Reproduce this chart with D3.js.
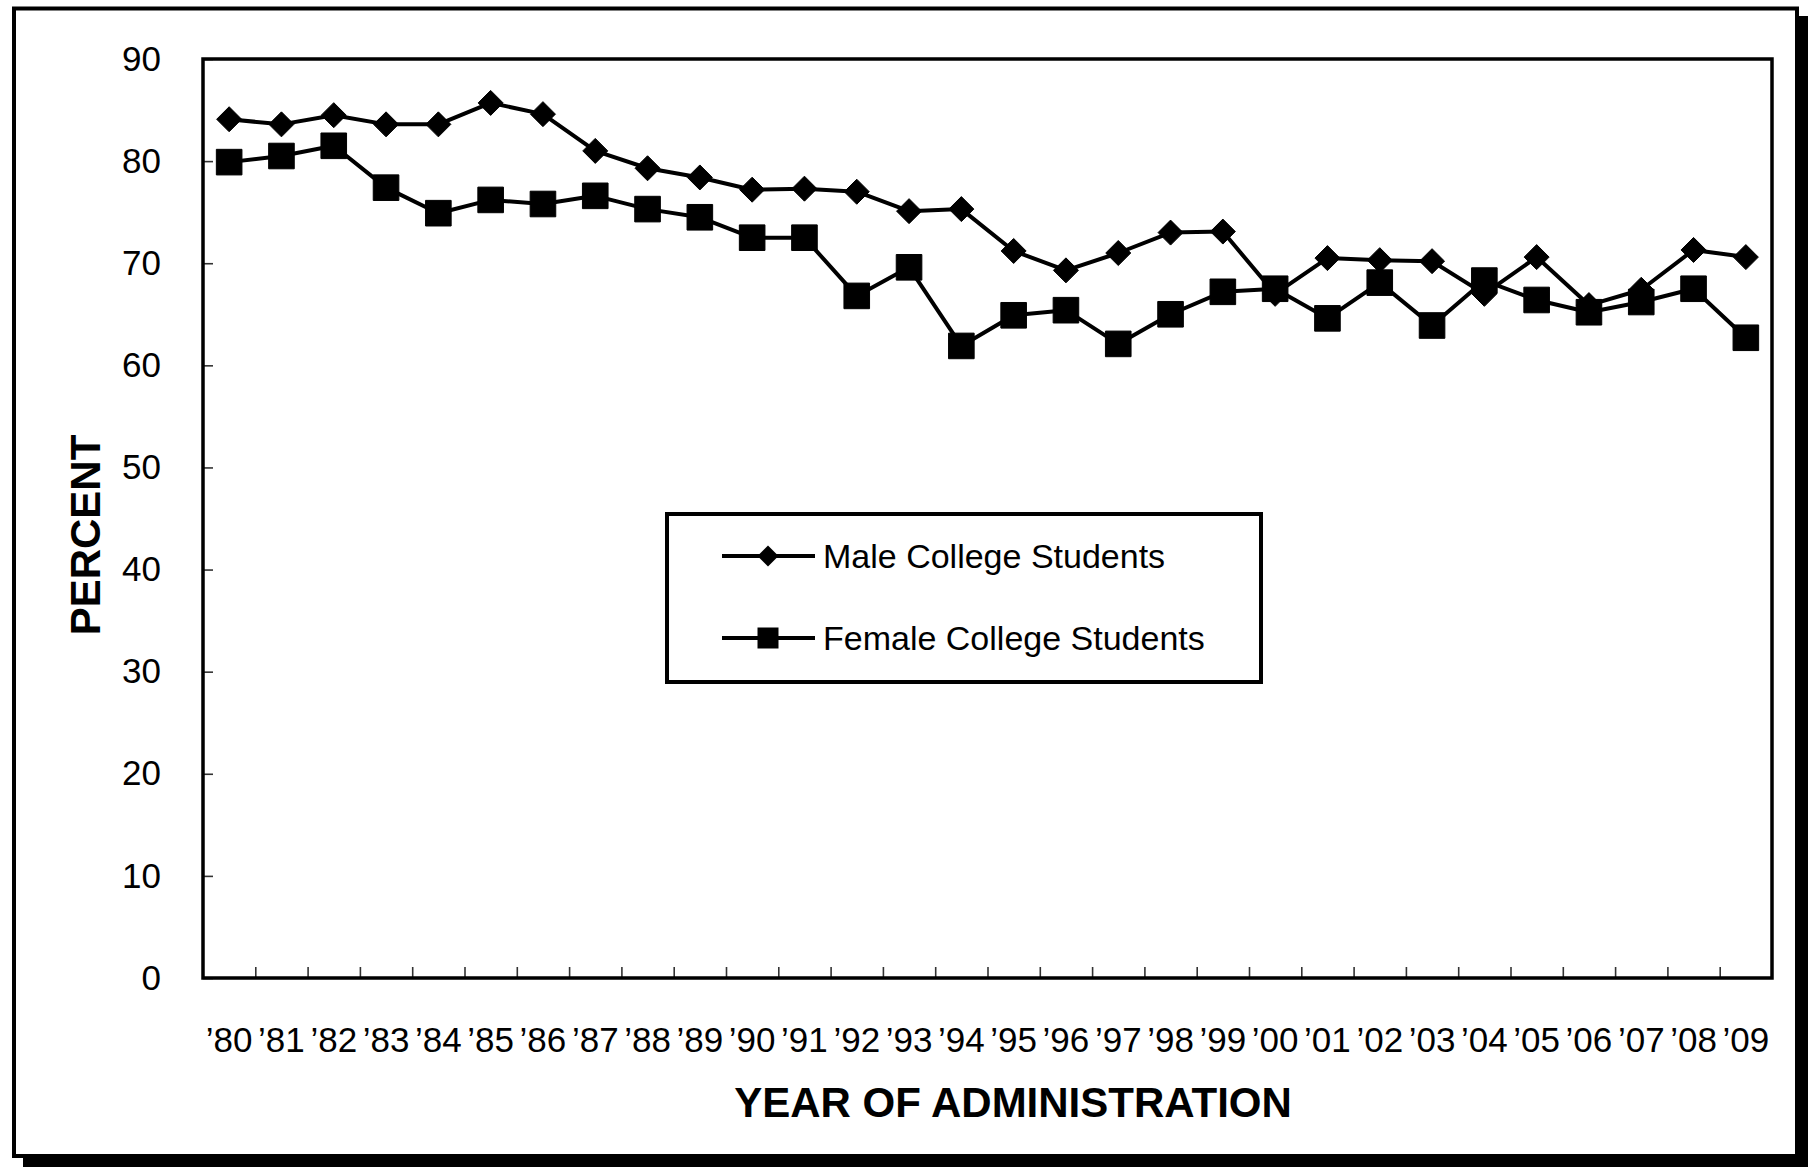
<!DOCTYPE html>
<html>
<head>
<meta charset="utf-8">
<script src="https://cdn.jsdelivr.net/npm/d3@7"></script>
<style>
  html, body { margin: 0; padding: 0; background: #fff; }
  svg { display: block; }
  text { font-family: "Liberation Sans", Arial, Helvetica, sans-serif; fill: #000; }
</style>
</head>
<body>
<svg id="chart" width="1808" height="1167"></svg>
<script>
// ---- Data ----
const years = ["’80","’81","’82","’83","’84","’85","’86","’87","’88","’89",
               "’90","’91","’92","’93","’94","’95","’96","’97","’98","’99",
               "’00","’01","’02","’03","’04","’05","’06","’07","’08","’09"];
const maleValues = [84.1, 83.6, 84.5, 83.6, 83.6, 85.7, 84.6, 81.0, 79.3, 78.4,
                    77.2, 77.3, 77.0, 75.1, 75.3, 71.2, 69.3, 71.0, 73.0, 73.1,
                    67.0, 70.5, 70.3, 70.2, 67.0, 70.6, 65.9, 67.4, 71.3, 70.6];
const femaleValues = [79.9, 80.5, 81.5, 77.4, 74.9, 76.2, 75.8, 76.6, 75.3, 74.5,
                      72.5, 72.5, 66.8, 69.6, 61.9, 64.9, 65.4, 62.1, 65.0, 67.2,
                      67.5, 64.6, 68.1, 63.9, 68.3, 66.4, 65.2, 66.2, 67.5, 62.7];
const yTicks = [0, 10, 20, 30, 40, 50, 60, 70, 80, 90];
const seriesNames = ["Male College Students", "Female College Students"];
const yAxisTitle = "PERCENT";
const xAxisTitle = "YEAR OF ADMINISTRATION";

// ---- Layout ----
const W = 1808, H = 1167;
const plot = { left: 203, top: 59, right: 1772, bottom: 978 };

const svg = d3.select("#chart");

// outer frame with drop shadow
svg.append("rect").attr("x", 23).attr("y", 16).attr("width", 1800).attr("height", 1160).attr("fill", "#000");
svg.append("rect").attr("x", 14).attr("y", 8.5).attr("width", 1783).attr("height", 1147.5)
  .attr("fill", "#fff").attr("stroke", "#000").attr("stroke-width", 4);

// scales
const x = d3.scaleBand().domain(years).range([plot.left, plot.right]).padding(0);
const xIdx = d3.scaleLinear().domain([0, years.length]).range([plot.left, plot.right]);
const y = d3.scaleLinear().domain([0, 90]).range([plot.bottom, plot.top]);
const cx = d => x(d) + x.bandwidth() / 2;

// y axis (ticks inside, labels outside)
const yAxis = svg.append("g").attr("transform", `translate(${plot.left},0)`)
  .call(d3.axisLeft(y).tickValues(yTicks).tickSizeInner(-10).tickSizeOuter(0).tickPadding(42).tickFormat(d3.format("d")));
yAxis.select(".domain").remove();
yAxis.selectAll(".tick line").attr("stroke", "#333").attr("stroke-width", 1.6);
yAxis.selectAll(".tick text").style("font-size", "35px").attr("fill", "#000");

// x axis boundary ticks (between categories)
const boundaryIdx = d3.range(1, years.length);
const xTickAxis = svg.append("g").attr("transform", `translate(0,${plot.bottom})`)
  .call(d3.axisBottom(xIdx).tickValues(boundaryIdx).tickSizeInner(-11).tickSizeOuter(0).tickFormat(""));
xTickAxis.select(".domain").remove();
xTickAxis.selectAll(".tick line").attr("stroke", "#333").attr("stroke-width", 1.6);

// x axis labels at band centres
const xAxis = svg.append("g").attr("transform", `translate(0,${plot.bottom})`)
  .call(d3.axisBottom(x).tickSize(0).tickPadding(49));
xAxis.select(".domain").remove();
xAxis.selectAll(".tick text").style("font-size", "35px").attr("fill", "#000");

// plot frame
svg.append("rect").attr("x", plot.left).attr("y", plot.top)
  .attr("width", plot.right - plot.left).attr("height", plot.bottom - plot.top)
  .attr("fill", "none").attr("stroke", "#000").attr("stroke-width", 3.5);

// axis titles
svg.append("text").attr("x", 1013).attr("y", 1117).attr("text-anchor", "middle")
  .style("font-size", "42px").style("font-weight", "bold").text(xAxisTitle);
svg.append("text").attr("transform", "translate(100,535) rotate(-90)").attr("text-anchor", "middle")
  .style("font-size", "42px").style("font-weight", "bold").text(yAxisTitle);

// series
const series = [
  { name: seriesNames[0], values: maleValues, symbol: d3.symbolDiamond2, size: 12.5 },
  { name: seriesNames[1], values: femaleValues, symbol: d3.symbolSquare2, size: 12.8 }
];
const line = d3.line().x((d, i) => cx(years[i])).y(d => y(d));

function markerPath(type, r) {
  if (type === d3.symbolDiamond2) {
    return `M0,${-r}L${r},0L0,${r}L${-r},0Z`;
  }
  return `M${-r},${-r}H${r}V${r}H${-r}Z`;
}

series.forEach(s => {
  const g = svg.append("g");
  g.append("path").datum(s.values).attr("d", line)
    .attr("fill", "none").attr("stroke", "#000").attr("stroke-width", 4).attr("stroke-linejoin", "round");
  g.selectAll("path.m").data(s.values).join("path").attr("class", "m")
    .attr("transform", (d, i) => `translate(${cx(years[i])},${y(d)})`)
    .attr("d", markerPath(s.symbol, s.size))
    .attr("fill", "#000").attr("stroke", "#000").attr("stroke-width", 1).attr("stroke-linejoin", "round");
});

// legend
const legend = svg.append("g");
legend.append("rect").attr("x", 667).attr("y", 514).attr("width", 594).attr("height", 168)
  .attr("fill", "#fff").attr("stroke", "#000").attr("stroke-width", 4);
const legendY = d3.scalePoint().domain(seriesNames).range([556, 638]);
series.forEach(s => {
  const ly = legendY(s.name);
  legend.append("line").attr("x1", 722).attr("x2", 815).attr("y1", ly).attr("y2", ly)
    .attr("stroke", "#000").attr("stroke-width", 4);
  legend.append("path").attr("transform", `translate(768,${ly})`)
    .attr("d", markerPath(s.symbol, s.symbol === d3.symbolDiamond2 ? 10.5 : 10.5)).attr("fill", "#000");
  legend.append("text").attr("x", 823).attr("y", ly + 12).style("font-size", "34px").text(s.name);
});
</script>
</body>
</html>
